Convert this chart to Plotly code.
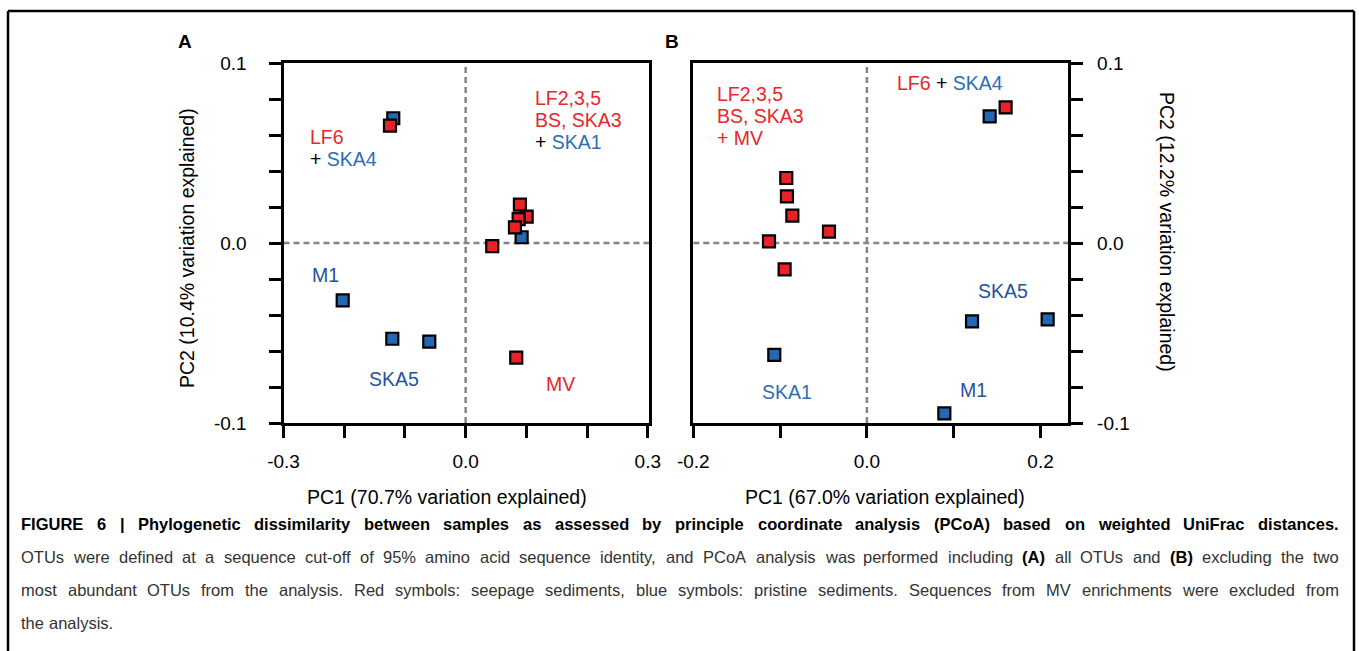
import plotly.graph_objects as go

W, H = 1359, 651

# ---------------- data ----------------
# Panel A (all OTUs)
a_red_x = [-0.1246, 0.0894, 0.1005, 0.0873, 0.0812, 0.0438, 0.0833]
a_red_y = [0.0652, 0.0213, 0.0146, 0.0133, 0.0087, -0.0017, -0.0637]
a_blue_x = [-0.1192, 0.0922, -0.2025, -0.1208, -0.0599]
a_blue_y = [0.0693, 0.0032, -0.0319, -0.0532, -0.0548]

# Panel B (two most abundant OTUs excluded)
b_red_x = [0.1598, -0.0929, -0.0921, -0.0859, -0.0437, -0.1128, -0.0948]
b_red_y = [0.0754, 0.0361, 0.0259, 0.0152, 0.0063, 0.0009, -0.0146]
b_blue_x = [0.1414, -0.1067, 0.1211, 0.2082, 0.0892]
b_blue_y = [0.0704, -0.0622, -0.0435, -0.0424, -0.0946]

a_xtick_vals = [-0.3, 0.0, 0.3]
a_xtick_text = ["-0.3", "0.0", "0.3"]
b_xtick_vals = [-0.2, 0.0, 0.2]
b_xtick_text = ["-0.2", "0.0", "0.2"]
ytick_vals = [-0.1, 0.0, 0.1]
ytick_text = ["-0.1", "0.0", "0.1"]

a_xtitle = "PC1 (70.7% variation explained)"
a_ytitle = "PC2 (10.4% variation explained)"
b_xtitle = "PC1 (67.0% variation explained)"
b_ytitle = "PC2 (12.2% variation explained)"

caption_bold = ("FIGURE 6 | Phylogenetic dissimilarity between samples as assessed by "
                "principle coordinate analysis (PCoA) based on weighted UniFrac distances.")
caption_line2 = ("OTUs were defined at a sequence cut-off of 95% amino acid sequence identity, "
                 "and PCoA analysis was performed including (A) all OTUs and (B) excluding the two")
caption_line3 = ("most abundant OTUs from the analysis. Red symbols: seepage sediments, blue symbols: "
                 "pristine sediments. Sequences from MV enrichments were excluded from")
caption_line4 = "the analysis."

# ---------------- styles ----------------
RED = "#EA2128"
RED_TXT = "#E8262B"
BLUE = "#2467B2"
BLUE_TXT = "#2F6CB5"
DBLUE_TXT = "#27519B"
FONT = "Liberation Sans, Arial, sans-serif"
DASH = "6px,4px"


def px(x):
    return x / W


def py(y):
    return 1 - y / H


fig = go.Figure()


def add_points(xs, ys, color, xa, ya):
    fig.add_trace(go.Scatter(
        x=xs, y=ys, xaxis=xa, yaxis=ya, mode="markers",
        marker=dict(symbol="square", size=12, color=color,
                    line=dict(color="black", width=2.2)),
        cliponaxis=False, showlegend=False, hoverinfo="x+y"))


add_points(a_blue_x, a_blue_y, BLUE, "x", "y")
add_points(a_red_x, a_red_y, RED, "x", "y")
add_points(b_red_x, b_red_y, RED, "x2", "y2")
add_points(b_blue_x, b_blue_y, BLUE, "x2", "y2")

ax_common = dict(showline=True, linewidth=3, linecolor="black", mirror=True,
                 ticks="outside", ticklen=12, tickwidth=3, tickcolor="black",
                 showgrid=False, zeroline=False, tickmode="array", automargin=False,
                 tickfont=dict(family=FONT, size=19, color="black"))

y_dom = [py(423), py(63)]
minor_x = dict(tickmode="linear", tick0=0, dtick=0.1, ticks="outside",
               ticklen=12, tickwidth=3, tickcolor="black")
minor_y = dict(tickmode="linear", tick0=0, dtick=0.02, ticks="outside",
               ticklen=12, tickwidth=3, tickcolor="black")

fig.update_layout(
    width=W, height=H, margin=dict(l=0, r=0, t=0, b=0, pad=0, autoexpand=False),
    paper_bgcolor="white", plot_bgcolor="white",
    font=dict(family=FONT, color="black"),
    xaxis=dict(**ax_common, domain=[px(283.5), px(649)], range=[-0.3, 0.302],
               anchor="y", tickvals=a_xtick_vals, ticktext=a_xtick_text,
               ticklabelstandoff=7, minor=minor_x),
    yaxis=dict(**ax_common, domain=y_dom, range=[-0.1, 0.1], anchor="x",
               tickvals=ytick_vals, ticktext=ytick_text, ticklabelstandoff=18,
               minor=minor_y),
    xaxis2=dict(**ax_common, domain=[px(693.3), px(1068.3)], range=[-0.2, 0.232],
                anchor="y2", tickvals=b_xtick_vals, ticktext=b_xtick_text,
                ticklabelstandoff=7, minor=minor_x),
    yaxis2=dict(**ax_common, domain=y_dom, range=[-0.1, 0.1], anchor="x2",
                side="right", tickvals=ytick_vals, ticktext=ytick_text,
                ticklabelstandoff=10, minor=minor_y),
)

# dashed zero lines
shapes = []
for xa, ya in (("x", "y"), ("x2", "y2")):
    shapes.append(dict(type="line", xref=xa, yref=ya + " domain", x0=0, x1=0, y0=0, y1=1,
                       line=dict(color="#858585", width=2.5, dash=DASH), layer="below"))
    shapes.append(dict(type="line", xref=xa + " domain", yref=ya, x0=0, x1=1, y0=0, y1=0,
                       line=dict(color="#858585", width=2.5, dash=DASH), layer="below"))

# outer frame (open at the bottom)
for x0, y0, x1, y1 in ((8, 11, 1354, 11), (8, 11, 8, 651), (1354, 11, 1354, 651)):
    shapes.append(dict(type="line", xref="paper", yref="paper",
                       x0=px(x0), y0=py(y0), x1=px(x1), y1=py(y1),
                       line=dict(color="black", width=2.5)))
fig.update_layout(shapes=shapes)

anns = []


def ann(x, y, text, size=19.5, color="black", xanchor="left", angle=0):
    anns.append(dict(x=px(x), y=py(y), xref="paper", yref="paper", text=text,
                     showarrow=False, xanchor=xanchor, yanchor="middle",
                     textangle=angle, borderpad=0,
                     font=dict(family=FONT, size=size, color=color)))


def col(t, c):
    return "<span style='color:%s'>%s</span>" % (c, t)


# panel letters
ann(185, 42, "<b>A</b>", size=19, xanchor="center")
ann(672, 42, "<b>B</b>", size=19, xanchor="center")

# axis titles
ann(447, 497, a_xtitle, size=19.5, xanchor="center")
ann(885, 497, b_xtitle, size=19.5, xanchor="center")
ann(187, 248, a_ytitle, size=19.5, xanchor="center", angle=-90)
ann(1167, 232, b_ytitle, size=19.5, xanchor="center", angle=90)

# panel A labels
ann(309, 137, col("LF6", RED_TXT))
ann(309, 159, "+ " + col("SKA4", BLUE_TXT))
ann(534, 98, col("LF2,3,5", RED_TXT))
ann(534, 120, col("BS, SKA3", RED_TXT))
ann(534, 142, "+ " + col("SKA1", BLUE_TXT))
ann(311, 275, col("M1", DBLUE_TXT))
ann(368, 379, col("SKA5", DBLUE_TXT))
ann(545, 384, col("MV", RED_TXT))

# panel B labels
ann(716, 94, col("LF2,3,5", RED_TXT))
ann(716, 116, col("BS, SKA3", RED_TXT))
ann(716, 138, col("+ MV", RED_TXT))
ann(896, 83, col("LF6", RED_TXT) + " + " + col("SKA4", BLUE_TXT))
ann(977, 291, col("SKA5", DBLUE_TXT))
ann(761, 392, col("SKA1", BLUE_TXT))
ann(959, 390, col("M1", DBLUE_TXT))

# ---------------- caption with justified lines ----------------
REG = {' ': 278, '!': 278, '%': 889, '(': 333, ')': 333, ',': 278, '-': 333, '.': 278,
       ':': 278, '|': 260, 'A': 667, 'B': 667, 'C': 722, 'D': 722, 'E': 667, 'F': 611,
       'G': 778, 'H': 722, 'I': 278, 'J': 500, 'K': 667, 'L': 556, 'M': 833, 'N': 722,
       'O': 778, 'P': 667, 'Q': 778, 'R': 722, 'S': 667, 'T': 611, 'U': 722, 'V': 667,
       'W': 944, 'X': 667, 'Y': 667, 'Z': 611, 'a': 556, 'b': 556, 'c': 500, 'd': 556,
       'e': 556, 'f': 278, 'g': 556, 'h': 556, 'i': 222, 'j': 222, 'k': 500, 'l': 222,
       'm': 833, 'n': 556, 'o': 556, 'p': 556, 'q': 556, 'r': 333, 's': 500, 't': 278,
       'u': 556, 'v': 500, 'w': 722, 'x': 500, 'y': 500, 'z': 500}
BLD = {' ': 278, '(': 333, ')': 333, ',': 278, '-': 333, '.': 278, ':': 333, '|': 280,
       'A': 722, 'B': 722, 'C': 722, 'D': 722, 'E': 667, 'F': 611, 'G': 778, 'H': 722,
       'I': 278, 'J': 556, 'K': 722, 'L': 611, 'M': 833, 'N': 722, 'O': 778, 'P': 667,
       'Q': 778, 'R': 722, 'S': 667, 'T': 611, 'U': 722, 'V': 667, 'W': 944, 'X': 667,
       'Y': 667, 'Z': 611, 'a': 556, 'b': 611, 'c': 556, 'd': 611, 'e': 556, 'f': 333,
       'g': 611, 'h': 611, 'i': 278, 'j': 278, 'k': 556, 'l': 278, 'm': 889, 'n': 611,
       'o': 611, 'p': 611, 'q': 611, 'r': 389, 's': 556, 't': 333, 'u': 611, 'v': 556,
       'w': 778, 'x': 556, 'y': 556, 'z': 500}


def wem(s, bold):
    t = BLD if bold else REG
    return sum(t.get(ch, 556) for ch in s) / 1000.0


def words(line, all_bold=False):
    out = []
    for w in line.split(" "):
        out.append((w, all_bold or w in ("(A)", "(B)")))
    return out


LEFT, RIGHT = 20, 1338


def fit_size(ws):
    nat = sum(wem(w, b) for w, b in ws) + (len(ws) - 1) * 0.278
    return (RIGHT - LEFT) / nat


def place(ws, y, size, justify=True, color="#333333"):
    widths = [wem(w, b) * size for w, b in ws]
    if justify and len(ws) > 1:
        gap = (RIGHT - LEFT - sum(widths)) / (len(ws) - 1)
    else:
        gap = 0.278 * size
    x = LEFT
    for (w, b), wd in zip(ws, widths):
        txt = "<b>%s</b>" % w if b else w
        ann(x, y, txt, size=size, color=("black" if b else color))
        x += wd + gap


w1 = words(caption_bold, all_bold=True)
w2 = words(caption_line2)
w3 = words(caption_line3)
w4 = words(caption_line4)
s_b = min(16.5, fit_size(w1) * 0.99)
s_r = min(16.5, min(fit_size(w2), fit_size(w3)) * 0.99)
place(w1, 524, s_b, color="#222222")
place(w2, 557, s_r)
place(w3, 590, s_r)
place(w4, 623, s_r, justify=False)

fig.update_layout(annotations=anns)
fig.write_html("out.html", config={"displayModeBar": False},
               post_script="document.body.style.margin='0';document.body.style.padding='0';")
